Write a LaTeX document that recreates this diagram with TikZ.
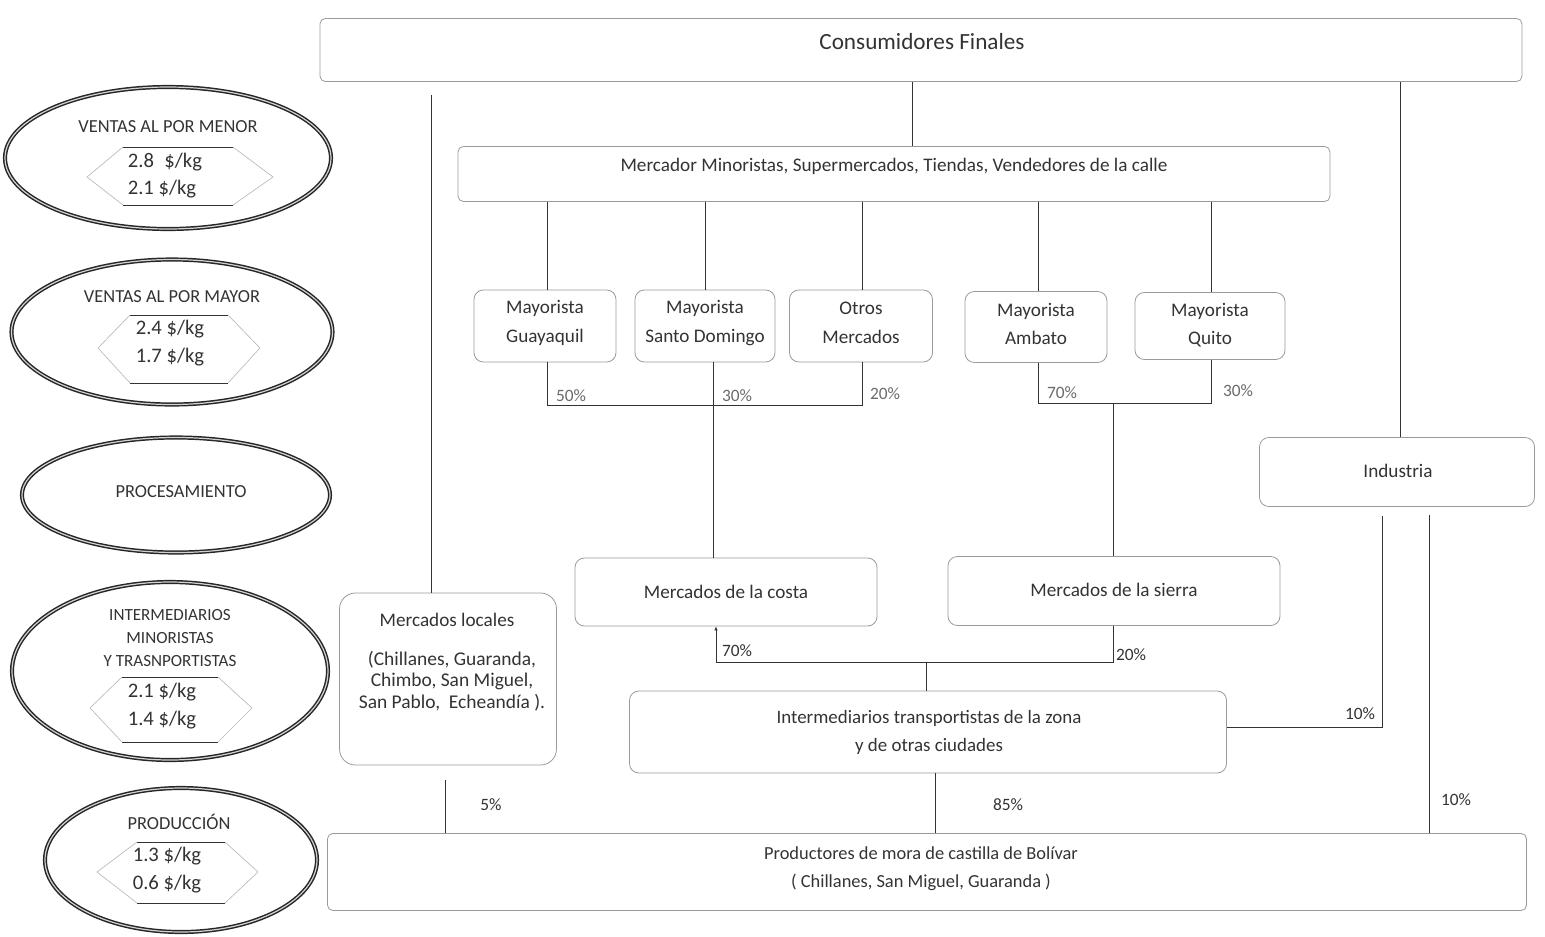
\documentclass[tikz,border=0pt]{standalone}
\usepackage{fontspec}
\setmainfont{Carlito}
\usetikzlibrary{shapes.geometric,arrows.meta}
\definecolor{ink}{HTML}{333333}
\definecolor{frame}{HTML}{9A9A9A}
\definecolor{pct}{HTML}{6A6A6A}
\def\upx{0.75pt}
\tikzset{
  every node/.style={text=ink, font=\fontsize{14.4}{17}\selectfont},
  box/.style={draw=frame, line width=0.6pt, rounded corners=7pt, inner sep=0pt},
  bigbox/.style={box, rounded corners=4pt},
  level/.style={ellipse, draw=black!85, line width=1.1pt, double=gray!35,
                double distance=0.9pt, inner sep=0pt},
  lvltext/.style={font=\fontsize{13.8}{16}\selectfont, align=center},
  price/.style={font=\fontsize{15.5}{17}\selectfont},
  hexrule/.style={draw=black!80, line width=0.7pt},
  hexside/.style={draw=gray!55, line width=0.5pt},
  link/.style={draw=ink, line width=0.55pt},
  pctlabel/.style={font=\fontsize{13}{15}\selectfont, text=pct, inner sep=0pt},
  twoline/.style={align=center, font=\fontsize{14.4}{21.5}\selectfont},
}
\begin{document}
\begin{tikzpicture}[x=0.75pt, y=-0.75pt]
\useasboundingbox (0,0) rectangle (1545,936);

% ---------- market levels (left column) ----------
\node[level, minimum width=326*\upx, minimum height=142*\upx] (lv1) at (168,158) {};
\node[lvltext] (lv1t) at (168,127) {VENTAS AL POR MENOR};
\draw[hexrule] (123,147) -- (233,147) (123,205) -- (233,205);
\draw[hexside] (123,147) -- (87,177) -- (123,205) (233,147) -- (273,177) -- (233,205);
\node[price] (lv1a) at (165,162) {2.8\enspace\$/kg};
\node[price] (lv1b) at (162,189) {2.1 \$/kg};

\node[level, minimum width=321*\upx, minimum height=145*\upx] (lv2) at (172,332) {};
\node[lvltext] (lv2t) at (172,297) {VENTAS AL POR MAYOR};
\draw[hexrule] (130,315) -- (228,315) (130,383) -- (228,383);
\draw[hexside] (130,315) -- (98,348) -- (130,383) (228,315) -- (260,348) -- (228,383);
\node[price] (lv2a) at (170,329) {2.4 \$/kg};
\node[price] (lv2b) at (170,357) {1.7 \$/kg};

\node[level, minimum width=308*\upx, minimum height=115*\upx] (lv3) at (176,495) {};
\node[lvltext] (lv3t) at (181,492) {PROCESAMIENTO};

\node[level, minimum width=316*\upx, minimum height=178*\upx] (lv4) at (170,671) {};
\node[lvltext, font=\fontsize{12.8}{17}\selectfont] (lv4t) at (170,638)
  {INTERMEDIARIOS\\MINORISTAS\\Y TRASNPORTISTAS};
\draw[hexrule] (122,677) -- (218,677) (122,742) -- (218,742);
\draw[hexside] (122,677) -- (90,708) -- (122,742) (218,677) -- (252,708) -- (218,742);
\node[price] (lv4a) at (162,692) {2.1 \$/kg};
\node[price] (lv4b) at (162,720) {1.4 \$/kg};

\node[level, minimum width=272*\upx, minimum height=144*\upx] (lv5) at (181,860) {};
\node[lvltext] (lv5t) at (179,822) {PRODUCCIÓN};
\draw[hexrule] (137,842) -- (225,842) (137,903) -- (225,903);
\draw[hexside] (137,842) -- (97,872) -- (137,903) (225,842) -- (258,872) -- (225,903);
\node[price] (lv5a) at (167,856) {1.3 \$/kg};
\node[price] (lv5b) at (167,884) {0.6 \$/kg};

% ---------- chain actors ----------
\node[bigbox, minimum width=1202*\upx, minimum height=63*\upx] (cons) at (921,50) {};
\node[font=\fontsize{17.4}{20}\selectfont] (const) at (922,42) {Consumidores Finales};

\node[bigbox, minimum width=872*\upx, minimum height=55*\upx] (mino) at (894,174) {};
\node (minot) at (894,166) {Mercador Minoristas, Supermercados, Tiendas, Vendedores de la calle};

\node[box, minimum width=142*\upx, minimum height=72*\upx] (gye) at (545,326) {};
\node[twoline] (gyet) at (545,323) {Mayorista\\Guayaquil};
\node[box, minimum width=140*\upx, minimum height=72*\upx] (sdo) at (705,326) {};
\node[twoline] (sdot) at (705,323) {Mayorista\\Santo Domingo};
\node[box, minimum width=143*\upx, minimum height=72*\upx] (otr) at (861,326) {};
\node[twoline] (otrt) at (861,323) {Otros\\Mercados};
\node[box, minimum width=142*\upx, minimum height=71*\upx] (amb) at (1036,327) {};
\node[twoline] (ambt) at (1036,324) {Mayorista\\Ambato};
\node[box, minimum width=150*\upx, minimum height=67*\upx] (uio) at (1210,326) {};
\node[twoline] (uiot) at (1210,325) {Mayorista\\Quito};

\node[box, minimum width=275*\upx, minimum height=69*\upx] (ind) at (1397,472) {};
\node (indt) at (1398,471) {Industria};

\node[box, minimum width=302*\upx, minimum height=68*\upx] (costa) at (726,592) {};
\node (costat) at (726,592) {Mercados de la costa};
\node[box, minimum width=332*\upx, minimum height=69*\upx] (sierra) at (1114,591) {};
\node (sierrat) at (1114,590) {Mercados de la sierra};

\node[box, rounded corners=12pt, minimum width=217*\upx, minimum height=172*\upx] (loc) at (448,679) {};
\node (loct) at (447,620) {Mercados locales};
\node[align=center, font=\fontsize{14.6}{16}\selectfont] (locl) at (452,681)
  {(Chillanes, Guaranda,\\Chimbo, San Miguel,\\San Pablo,\ \ Echeandía ).};

\node[box, minimum width=597*\upx, minimum height=82*\upx] (inter) at (928,732) {};
\node[twoline, font=\fontsize{14.2}{21}\selectfont] (intert) at (929,732)
  {Intermediarios transportistas de la zona\\y de otras ciudades};

\node[bigbox, minimum width=1199*\upx, minimum height=77*\upx] (prod) at (927,872) {};
\node[twoline, font=\fontsize{13.8}{21}\selectfont] (prodt) at (921,869)
  {Productores de mora de castilla de Bolívar\\( Chillanes, San Miguel, Guaranda )};

% ---------- vertical guides for connector positions ----------
\coordinate (xl) at (431,0);
\coordinate (xc) at (912,0);
\coordinate (xr) at (1400,0);
\coordinate (xg) at (547,0);
\coordinate (xs) at (713,0);
\coordinate (xo) at (862,0);
\coordinate (xa) at (1038,0);
\coordinate (xq) at (1211,0);
\coordinate (xsi) at (1113,0);
\coordinate (xk) at (716,0);
\coordinate (xm) at (926,0);
\coordinate (xp) at (935,0);
\coordinate (xlp) at (445,0);
\coordinate (xi1) at (1382,0);
\coordinate (xi2) at (1429,0);
\coordinate (yw) at (0,405);
\coordinate (ye) at (0,403);
\coordinate (yk) at (0,662);
\coordinate (yi) at (0,727);

% ---------- connectors ----------
\draw[link] (cons.south -| xc) -- (mino.north -| xc);
\draw[link] ([yshift=-10pt]cons.south -| xl) -- (loc.north -| xl);
\draw[link] (cons.south -| xr) -- (ind.north -| xr);

\draw[link] (mino.south -| xg) -- (gye.north -| xg);
\draw[link] (mino.south -| sdo.north) -- (sdo.north);
\draw[link] (mino.south -| xo) -- (otr.north -| xo);
\draw[link] (mino.south -| xa) -- (amb.north -| xa);
\draw[link] (mino.south -| xq) -- (uio.north -| xq);

% coast wholesalers
\draw[link] (gye.south -| xg) -- (yw -| xg) -- (yw -| xo) -- (otr.south -| xo);
\draw[link] (sdo.south -| xs) -- (costa.north -| xs);
% highland wholesalers
\draw[link] (amb.south -| xa) -- (ye -| xa) -- (ye -| xq) -- (uio.south -| xq);
\draw[link] (ye -| xsi) -- (sierra.north -| xsi);

% regional markets from intermediaries
\draw[link, -{Latex[length=3pt,width=2.6pt]}] (yk -| xk) -- (costa.south -| xk);
\draw[link] (yk -| xk) -- (yk -| xsi) -- (sierra.south -| xsi);
\draw[link] (inter.north -| xm) -- (yk -| xm);

% industry
\draw[link] ([yshift=-7pt]ind.south -| xi1) -- (yi -| xi1) -- (inter.east |- yi);
\draw[link] ([yshift=-6pt]ind.south -| xi2) -- (prod.north -| xi2);

% producers
\draw[link] (prod.north -| xp) -- (inter.south -| xp);
\draw[link] (prod.north -| xlp) -- ([yshift=-11pt]loc.south -| xlp);

% ---------- shares ----------
\node[pctlabel] (p50) at (571,396) {50\%};
\node[pctlabel] (p30a) at (737,396) {30\%};
\node[pctlabel] (p20a) at (885,394) {20\%};
\node[pctlabel] (p70a) at (1062,393) {70\%};
\node[pctlabel] (p30b) at (1238,391) {30\%};
\node[pctlabel, text=ink] (p70b) at (737,651) {70\%};
\node[pctlabel, text=ink] (p20b) at (1131,655) {20\%};
\node[pctlabel, text=ink] (p10a) at (1360,714) {10\%};
\node[pctlabel, text=ink] (p10b) at (1456,800) {10\%};
\node[pctlabel, text=ink] (p5) at (491,805) {5\%};
\node[pctlabel, text=ink] (p85) at (1008,805) {85\%};
\end{tikzpicture}
\end{document}
